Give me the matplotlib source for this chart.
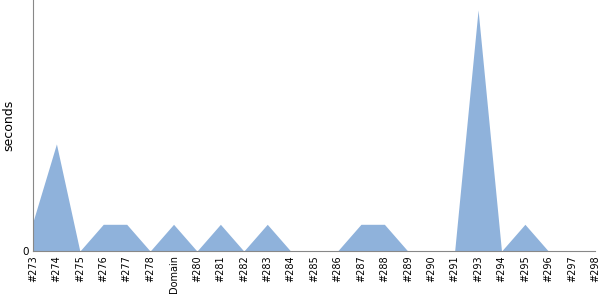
import matplotlib
matplotlib.use("Agg")
import matplotlib.pyplot as plt

labels = ["#273", "#274", "#275", "#276", "#277", "#278", "Domain", "#280", "#281", "#282",
          "#283", "#284", "#285", "#286", "#287", "#288", "#289", "#290", "#291", "#293",
          "#294", "#295", "#296", "#297", "#298"]
values = [1.1, 4.0, 0, 1.0, 1.0, 0, 1.0, 0, 1.0, 0,
          1.0, 0, 0, 0, 1.0, 1.0, 0, 0, 0, 9.0,
          0, 1.0, 0, 0, 0]

fig = plt.figure(figsize=(6, 3), dpi=100)
ax = fig.add_axes([0.055, 0.163, 0.937, 0.837])
x = list(range(len(labels)))
ax.fill_between(x, values, 0, color="#8fb2db", linewidth=0)
ax.set_xlim(0, len(labels) - 1)
ax.set_ylim(0, 9.37)
ax.set_xticks(x)
ax.set_xticklabels(labels, rotation=90, fontsize=7)
ax.set_yticks([0])
ax.set_yticklabels(["0"], fontsize=7.5)
ax.tick_params(length=0, pad=3)
ax.set_ylabel("seconds", fontsize=9, labelpad=5)
for s in ["top", "right"]:
    ax.spines[s].set_visible(False)
for s in ["left", "bottom"]:
    ax.spines[s].set_color("#888888")
    ax.spines[s].set_linewidth(0.8)
fig.savefig("out.png")
